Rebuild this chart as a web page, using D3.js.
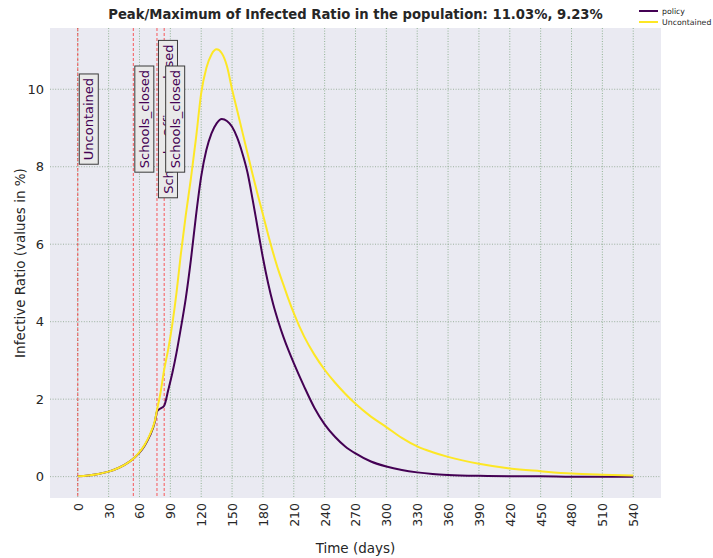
<!DOCTYPE html>
<html>
<head>
<meta charset="utf-8">
<script src="https://cdn.jsdelivr.net/npm/d3@7"></script>
<style>
  body { margin: 0; background: #fff; }
  text { font-family: "DejaVu Sans", sans-serif; }
</style>
</head>
<body>
<svg class="chart"></svg>
<script>
const width = 713;
const height = 558;

// days of the simulation and infected ratio (%) for each scenario
const days = [0, 10, 20, 30, 40, 50, 55, 60, 65, 70, 75, 77, 80, 84, 88, 92, 96, 100, 105, 110,
  115, 120, 125, 130, 135, 140, 145, 150, 155, 160, 165, 170, 175, 180, 185, 190, 195, 200, 205,
  210, 220, 230, 240, 250, 260, 270, 285, 300, 315, 330, 345, 360, 390, 420, 450, 480, 510, 540];
const uncontained = [0.01, 0.03, 0.07, 0.13, 0.23, 0.38, 0.49, 0.63, 0.82, 1.08, 1.45, 1.72, 2.1,
  2.76, 3.3, 3.95, 4.75, 5.7, 6.75, 7.7, 8.75, 9.9, 10.55, 10.9, 11.03, 10.93, 10.6, 10.0, 9.45,
  8.9, 8.35, 7.8, 7.27, 6.77, 6.25, 5.77, 5.33, 4.95, 4.57, 4.22, 3.62, 3.15, 2.76, 2.43, 2.14,
  1.88, 1.55, 1.28, 1.0, 0.78, 0.63, 0.51, 0.33, 0.21, 0.14, 0.08, 0.05, 0.03];
const policy = [0.01, 0.03, 0.07, 0.13, 0.23, 0.38, 0.49, 0.62, 0.8, 1.05, 1.42, 1.68, 1.75,
  1.83, 2.24, 2.68, 3.2, 3.8, 4.6, 5.6, 6.75, 7.75, 8.43, 8.86, 9.12, 9.23, 9.18, 9.03, 8.75,
  8.35, 7.85, 7.15, 6.4, 5.65, 5.0, 4.45, 4.0, 3.6, 3.25, 2.93, 2.33, 1.78, 1.35, 1.03, 0.78,
  0.6, 0.39, 0.26, 0.17, 0.11, 0.07, 0.045, 0.02, 0.01, 0.01, 0.0, 0.0, 0.0];

// policy change days and their labels
const eventDays = [0, 54, 77, 84];
const eventLabels = ["Uncontained", "Schools_closed", "Schools_Offices_closed", "Schools_closed"];

const xTicks = d3.range(0, 541, 30);
const yTicks = [0, 2, 4, 6, 8, 10];

const seriesNames = ["policy", "Uncontained"];
const colors = { policy: "#440154", Uncontained: "#fde725" };

const margin = { top: 28, right: 52, bottom: 60, left: 50 };

const svg = d3.select('.chart')
  .attr('width', width).attr('height', height);

const xExt = d3.extent(days);
const xPad = (xExt[1] - xExt[0]) * 0.05;
const yMax = d3.max(uncontained.concat(policy));
const yPad = yMax * 0.05;

const x = d3.scaleLinear()
  .domain([xExt[0] - xPad, xExt[1] + xPad])
  .range([margin.left, width - margin.right]);
const y = d3.scaleLinear()
  .domain([-yPad, yMax + yPad])
  .range([height - margin.bottom, margin.top]);

// plot background
svg.append('rect')
  .attr('x', x.range()[0]).attr('y', y.range()[1])
  .attr('width', x.range()[1] - x.range()[0])
  .attr('height', y.range()[0] - y.range()[1])
  .attr('fill', '#eaeaf2');

// grid
svg.append('g').selectAll('line.vgrid')
  .data(xTicks).enter().append('line')
  .attr('x1', d => x(d)).attr('x2', d => x(d))
  .attr('y1', y.range()[1]).attr('y2', y.range()[0])
  .attr('stroke', '#5e935e').attr('stroke-opacity', 0.7)
  .attr('stroke-width', 0.9).attr('stroke-dasharray', '1,1.6');
svg.append('g').selectAll('line.hgrid')
  .data(yTicks).enter().append('line')
  .attr('y1', d => y(d)).attr('y2', d => y(d))
  .attr('x1', x.range()[0]).attr('x2', x.range()[1])
  .attr('stroke', '#6f8f6f').attr('stroke-opacity', 0.7)
  .attr('stroke-width', 0.9).attr('stroke-dasharray', '1,1.6');

// axes (labels only, no tick marks)
const xAxis = svg.append('g')
  .attr('transform', `translate(0,${y.range()[0]})`)
  .call(d3.axisBottom(x).tickValues(xTicks).tickSize(0).tickPadding(0));
xAxis.select('.domain').remove();
xAxis.selectAll('text')
  .attr('transform', 'rotate(-90)')
  .attr('x', -5).attr('y', 0).attr('dy', '0.35em')
  .style('text-anchor', 'end')
  .attr('fill', '#262626').style('font-size', '12.5px');

const yAxis = svg.append('g')
  .attr('transform', `translate(${x.range()[0]},0)`)
  .call(d3.axisLeft(y).tickValues(yTicks).tickSize(0).tickPadding(6));
yAxis.select('.domain').remove();
yAxis.selectAll('text')
  .attr('fill', '#262626').style('font-size', '13px');

// policy change markers
svg.append('g').selectAll('line')
  .data(eventDays).enter().append('line')
  .attr('x1', d => x(d)).attr('x2', d => x(d))
  .attr('y1', y.range()[1]).attr('y2', y.range()[0])
  .attr('stroke', '#ff0000').attr('stroke-opacity', 0.7)
  .attr('stroke-width', 0.9).attr('stroke-dasharray', '3,2');

// curves
const line = d3.line()
  .x((d, i) => x(days[i]))
  .y(d => y(d))
  .curve(d3.curveMonotoneX);

svg.append('path').datum(policy)
  .attr('d', line).attr('fill', 'none')
  .attr('stroke', colors.policy).attr('stroke-width', 2);
svg.append('path').datum(uncontained)
  .attr('d', line).attr('fill', 'none')
  .attr('stroke', colors.Uncontained).attr('stroke-width', 2);

// event labels, centred on the policy peak
const labelY = y(d3.max(policy));
eventDays.forEach((d, i) => {
  const g = svg.append('g')
    .attr('transform', `translate(${x(d) + 1.5},${labelY}) rotate(-90)`);
  const rect = g.append('rect');
  const t = g.append('text')
    .attr('text-anchor', 'middle')
    .attr('dy', '0.35em')
    .attr('fill', '#440154')
    .style('font-size', '13px')
    .text(eventLabels[i]);
  const len = t.node().getComputedTextLength();
  const padX = 4, boxH = 19;
  rect.attr('x', -len / 2 - padX).attr('y', 0)
    .attr('width', len + padX * 2).attr('height', boxH)
    .attr('fill', '#e9e9e9').attr('stroke', '#3a3a3a').attr('stroke-width', 1);
  t.attr('y', boxH / 2);
});

// title
svg.append('text')
  .attr('x', (x.range()[0] + x.range()[1]) / 2).attr('y', 19)
  .attr('text-anchor', 'middle')
  .style('font-size', '13.2px').style('font-weight', 'bold')
  .attr('fill', '#262626')
  .text('Peak/Maximum of Infected Ratio in the population: 11.03%, 9.23%');

// axis titles
svg.append('text')
  .attr('x', (x.range()[0] + x.range()[1]) / 2).attr('y', 553)
  .attr('text-anchor', 'middle')
  .style('font-size', '13.5px').attr('fill', '#262626')
  .text('Time (days)');
svg.append('text')
  .attr('transform', `translate(25,${(y.range()[0] + y.range()[1]) / 2}) rotate(-90)`)
  .attr('text-anchor', 'middle')
  .style('font-size', '13.5px').attr('fill', '#262626')
  .text('Infective Ratio (values in %)');

// legend
const legend = svg.append('g').attr('transform', 'translate(639,11)');
seriesNames.forEach((name, i) => {
  legend.append('line')
    .attr('x1', 0).attr('x2', 19)
    .attr('y1', i * 11).attr('y2', i * 11)
    .attr('stroke', colors[name]).attr('stroke-width', 2);
  legend.append('text')
    .attr('x', 23).attr('y', i * 11).attr('dy', '0.35em')
    .style('font-size', '7.8px').attr('fill', '#262626')
    .text(name);
});
</script>
</body>
</html>
